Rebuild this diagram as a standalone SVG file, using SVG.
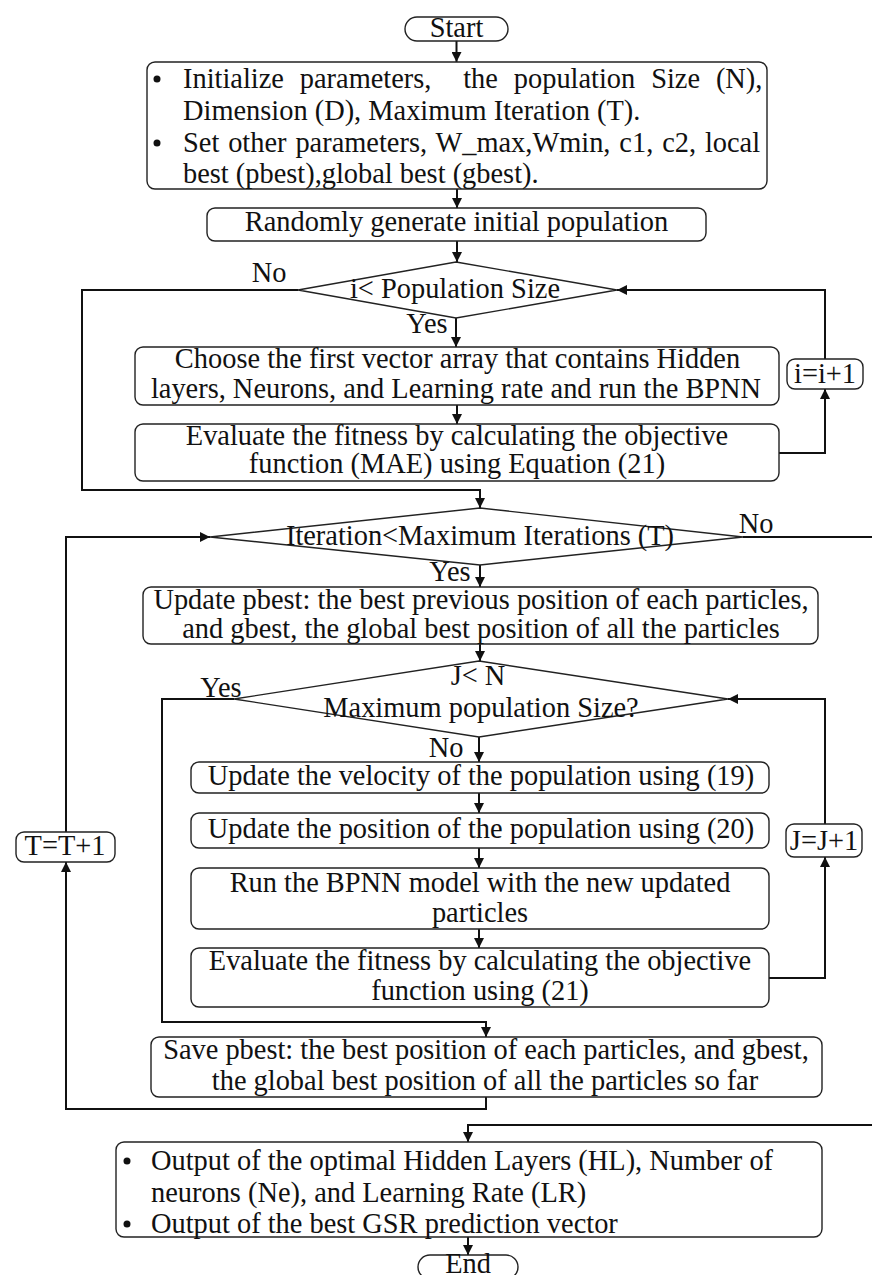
<svg xmlns="http://www.w3.org/2000/svg" width="872" height="1275" viewBox="0 0 872 1275">
<style>
.box{fill:#fff;stroke:#222;stroke-width:1.4}
.dia{fill:#fff;stroke:#222;stroke-width:1.4}
.con{fill:none;stroke:#111;stroke-width:2}
.t{font-family:"Liberation Serif","Times New Roman",serif;font-size:28.4px;fill:#111}
.m{text-anchor:middle}
</style>
<defs>
<marker id="ah" markerUnits="userSpaceOnUse" markerWidth="10" markerHeight="10" refX="10" refY="5" orient="auto">
<path d="M0,0 L10,5 L0,10 z" fill="#111"/>
</marker>
</defs>
<g id="connectors">
<path class="con" d="M456.5,41 V62" marker-end="url(#ah)"/>
<path class="con" d="M457,189 V208" marker-end="url(#ah)"/>
<path class="con" d="M457,241 V262" marker-end="url(#ah)"/>
<path class="con" d="M456,318 V347" marker-end="url(#ah)"/>
<path class="con" d="M457,405 V424" marker-end="url(#ah)"/>
<path class="con" d="M779,453 H825 V389" marker-end="url(#ah)"/>
<path class="con" d="M825,359 V290 H617" marker-end="url(#ah)"/>
<path class="con" d="M298,290 H82 V490 H480 V508" marker-end="url(#ah)"/>
<path class="con" d="M480,565 V587" marker-end="url(#ah)"/>
<path class="con" d="M480,644 V661" marker-end="url(#ah)"/>
<path class="con" d="M479,737 V762" marker-end="url(#ah)"/>
<path class="con" d="M479,793 V813" marker-end="url(#ah)"/>
<path class="con" d="M479,848 V868" marker-end="url(#ah)"/>
<path class="con" d="M479,929 V948" marker-end="url(#ah)"/>
<path class="con" d="M769,978 H825 V857" marker-end="url(#ah)"/>
<path class="con" d="M825,824 V699 H728" marker-end="url(#ah)"/>
<path class="con" d="M234,699 H162 V1022 H486 V1037" marker-end="url(#ah)"/>
<path class="con" d="M486,1097 V1109 H66 V862" marker-end="url(#ah)"/>
<path class="con" d="M66,832 V537 H210" marker-end="url(#ah)"/>
<path class="con" d="M743,537 H890 V1125 H468 V1142" marker-end="url(#ah)"/>
<path class="con" d="M468,1237 V1255" marker-end="url(#ah)"/>
</g>
<g id="start"><rect class="box" x="405" y="17" width="103" height="24" rx="12"/><text class="t m" x="456.5" y="37">Start</text></g>
<g id="init"><rect class="box" x="147" y="62" width="620" height="127" rx="8"/>
<circle cx="157" cy="79" r="3.5" fill="#111"/><circle cx="157" cy="143" r="3.5" fill="#111"/>
<text class="t" x="183" y="88" xml:space="preserve" word-spacing="8.8">Initialize parameters,  the population Size (N),</text>
<text class="t" x="183" y="120">Dimension (D), Maximum Iteration (T).</text>
<text class="t" x="183" y="152" word-spacing="1.8">Set other parameters, W_max,Wmin, c1, c2, local</text>
<text class="t" x="183" y="183">best (pbest),global best (gbest).</text></g>
<g id="random"><rect class="box" x="207" y="208" width="499" height="33" rx="8"/><text class="t m" x="456.5" y="231">Randomly generate initial population</text></g>
<g id="dec1"><polygon class="dia" points="456,262 617,290 456,318 298,290"/>
<text class="t m" x="455" y="298">i&lt; Population Size</text>
<text class="t m" x="269" y="282">No</text>
<text class="t m" x="427" y="333">Yes</text></g>
<g id="choose"><rect class="box" x="135" y="347" width="644" height="58" rx="8"/>
<text class="t m" x="457.5" y="368">Choose the first vector array that contains Hidden</text>
<text class="t m" x="456" y="398">layers, Neurons, and Learning rate and run the BPNN</text></g>
<g id="eval1"><rect class="box" x="135" y="424" width="644" height="57" rx="8"/>
<text class="t m" x="457" y="445">Evaluate the fitness by calculating the objective</text>
<text class="t m" x="457" y="473">function (MAE) using Equation (21)</text></g>
<g id="inc-i"><rect class="box" x="787" y="359" width="76" height="30" rx="8"/><text class="t m" x="825" y="383">i=i+1</text></g>
<g id="dec2"><polygon class="dia" points="480,508 743,537 480,565 210,537"/>
<text class="t m" x="480" y="545">Iteration&lt;Maximum Iterations (T)</text>
<text class="t m" x="756" y="533">No</text>
<text class="t m" x="450" y="581">Yes</text></g>
<g id="update"><rect class="box" x="143" y="587" width="675" height="57" rx="8"/>
<text class="t m" x="481" y="609">Update pbest: the best previous position of each particles,</text>
<text class="t m" x="481" y="638">and gbest, the global best position of all the particles</text></g>
<g id="dec3"><polygon class="dia" points="479,661 728,699 479,737 234,699"/>
<text class="t m" x="478" y="685">J&lt; N</text>
<text class="t m" x="481" y="717">Maximum population Size?</text>
<text class="t m" x="221" y="697">Yes</text>
<text class="t m" x="446" y="757">No</text></g>
<g id="velocity"><rect class="box" x="191" y="762" width="578" height="31" rx="8"/><text class="t m" x="481" y="785">Update the velocity of the population using (19)</text></g>
<g id="position"><rect class="box" x="191" y="813" width="578" height="35" rx="8"/><text class="t m" x="481" y="838">Update the position of the population using (20)</text></g>
<g id="run"><rect class="box" x="191" y="868" width="578" height="61" rx="8"/>
<text class="t m" x="480" y="892">Run the BPNN model with the new updated</text>
<text class="t m" x="480" y="922">particles</text></g>
<g id="eval2"><rect class="box" x="191" y="948" width="578" height="59" rx="8"/>
<text class="t m" x="480" y="970">Evaluate the fitness by calculating the objective</text>
<text class="t m" x="480" y="1000">function using (21)</text></g>
<g id="inc-j"><rect class="box" x="786" y="824" width="76" height="33" rx="8"/><text class="t m" x="824" y="850">J=J+1</text></g>
<g id="inc-t"><rect class="box" x="16" y="832" width="99" height="30" rx="8"/><text class="t m" x="65" y="855">T=T+1</text></g>
<g id="save"><rect class="box" x="151" y="1037" width="671" height="60" rx="8"/>
<text class="t m" x="486" y="1059">Save pbest: the best position of each particles, and gbest,</text>
<text class="t m" x="485" y="1090">the global best position of all the particles so far</text></g>
<g id="output"><rect class="box" x="116" y="1142" width="706" height="95" rx="8"/>
<circle cx="127" cy="1161" r="3.5" fill="#111"/><circle cx="127" cy="1224" r="3.5" fill="#111"/>
<text class="t" x="151" y="1170">Output of the optimal Hidden Layers (HL), Number of</text>
<text class="t" x="151" y="1202">neurons (Ne), and Learning Rate (LR)</text>
<text class="t" x="151" y="1233">Output of the best GSR prediction vector</text></g>
<g id="end"><rect class="box" x="418" y="1255" width="100" height="24" rx="12"/><text class="t m" x="468" y="1273">End</text></g>
</svg>
